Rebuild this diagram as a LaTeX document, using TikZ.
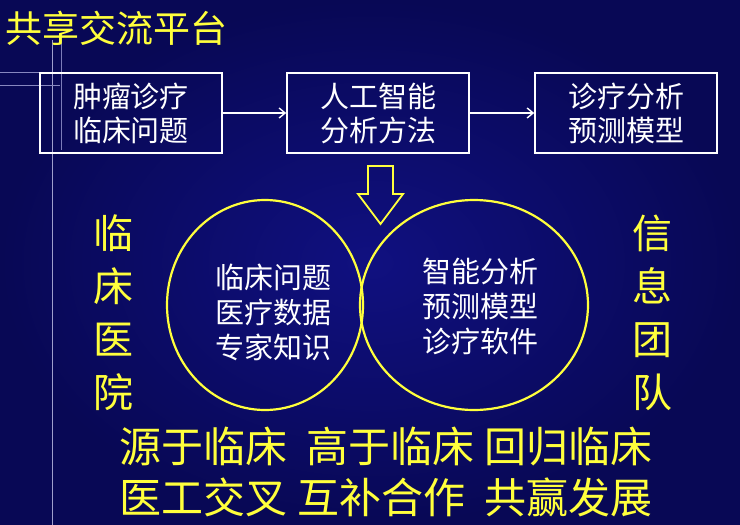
\documentclass[tikz,border=0pt]{standalone}
\usepackage{fontspec}
\setmainfont{Noto Sans CJK SC}
\usetikzlibrary{arrows.meta}
\definecolor{navy}{RGB}{16,16,128}
\definecolor{navydeep}{RGB}{8,8,85}
\definecolor{ylw}{RGB}{255,255,60}

\tikzset{
  stepbox/.style={draw=white, line width=1.6pt, minimum width=182pt, minimum height=80pt,
    text=white, font=\fontsize{29}{34}\selectfont, align=center},
  flow/.style={draw=white, line width=1.4pt, -{Straight Barb[length=6pt,width=10pt]}},
  ring/.style={draw=ylw, line width=2.2pt},
  inner/.style={text=white, font=\fontsize{29}{35}\selectfont, align=center},
  side/.style={text=ylw, font=\fontsize{40}{53}\selectfont, align=center},
  motto/.style={text=ylw, font=\fontsize{42}{46}\selectfont}
}

\begin{document}
\begin{tikzpicture}[x=1pt, y=-1pt]
  % background
  \fill[inner color=navy, outer color=navydeep] (0,0) rectangle (740,525);
  \useasboundingbox (0,0) rectangle (740,525);
  % glint lines
  \draw[white!60!navy, line width=0.8pt] (52,40) -- (52,525);
  \draw[white!45!navy, line width=0.6pt] (61,40) -- (61,150);
  \draw[white!50!navy, line width=0.6pt] (0,72) -- (120,72);
  \draw[white!50!navy, line width=0.6pt] (0,85) -- (60,85);

  % title
  \node[text=ylw, font=\fontsize{37}{40}\selectfont, anchor=west] (title) at (2,28) {共享交流平台};

  % top flow
  \node[stepbox] (tumor) at (131,113) {肿瘤诊疗\\临床问题};
  \node[stepbox] (ai) at (378,113) {人工智能\\分析方法};
  \node[stepbox] (model) at (626,113) {诊疗分析\\预测模型};
  \draw[flow] (tumor) -- (ai);
  \draw[flow] (ai) -- (model);

  % down arrow
  \draw[draw=ylw, line width=1.8pt, line join=miter]
    (368,166) -- (393,166) -- (393,194) -- (403,194) -- (380.5,224) -- (358,194) -- (368,194) -- cycle;

  % overlapping circles
  \draw[ring] (265,305) ellipse (98 and 105);
  \draw[ring] (474,305) ellipse (114 and 105);
  \node[inner] (clinic) at (273,312) {临床问题\\医疗数据\\专家知识};
  \node[inner] (soft) at (480,306) {智能分析\\预测模型\\诊疗软件};

  % side labels
  \node[side] (hospital) at (113,313) {临\\床\\医\\院};
  \node[side] (team) at (652,313) {信\\息\\团\\队};

  % mottos
  \node[motto] (line1) at (386,447) {源于临床\ \ 高于临床\ 回归临床};
  \node[motto] (line2) at (386,497) {医工交叉\ 互补合作\ \ 共赢发展};
\end{tikzpicture}
\end{document}
